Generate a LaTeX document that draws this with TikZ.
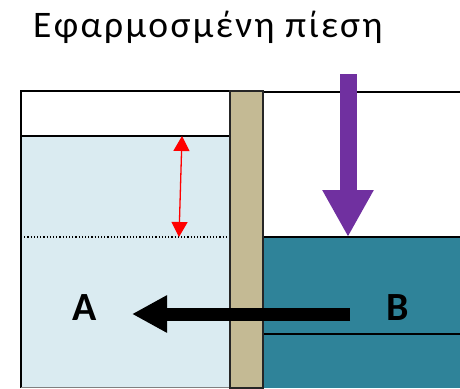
\documentclass[tikz,border=0pt]{standalone}
\usepackage{fontspec}
\setmainfont{Carlito}
\usepackage{tikz}
\usetikzlibrary{arrows.meta}
\definecolor{lightwater}{HTML}{DAEBF1}
\definecolor{deepwater}{HTML}{2F8399}
\definecolor{membrane}{HTML}{C4BA94}
\definecolor{pushcol}{HTML}{7030A0}

\begin{document}
\begin{tikzpicture}[x=1pt, y=-1pt,
      wall/.style={draw=black, line width=1.6pt},
      lbl/.style={font=\fontsize{40}{44}\selectfont\bfseries, inner sep=0pt},
      ttl/.style={font=\fontsize{37.5}{42}\selectfont\addfontfeatures{LetterSpace=6.3},
                  inner sep=0pt, anchor=base west},
      push/.style={pushcol, line width=17pt, -{Triangle[length=47pt, width=48pt]}},
      flow/.style={black, line width=13pt, -{Triangle[length=35pt, width=35pt]}},
      height/.style={red, line width=1.3pt,
                     {Triangle[length=15pt, width=16pt]}-{Triangle[length=15pt, width=16pt]}}]
    \useasboundingbox (0,0) rectangle (460,388);
    % title
    \node[ttl] (title) at (33,37) {Εφαρμοσμένη πίεση};
    % left vessel
    \fill[lightwater] (21,136) rectangle (230,388);
    \draw[wall] (21,388) -- (21,91) -- (230,91);
    \draw[wall] (21,136) -- (230,136);
    \draw[black!50, line width=1pt] (21,387) -- (230,387);
    \draw[black, dotted, line width=1.2pt] (21,237) -- (230,237);
    % right vessel
    \fill[deepwater] (263,237) rectangle (460,388);
    \draw[wall] (263,92) -- (460,92);
    \draw[wall] (263,237) -- (460,237);
    \draw[wall] (263,334) -- (460,334);
    % membrane
    \draw[fill=membrane, draw=black!85, line width=1.3pt] (230,91) rectangle (263,388);
    % labels
    \node[lbl] (A) at (85,307.5) {A};
    \node[lbl] (B) at (398,308) {B};
    % arrows
    \coordinate (risetop) at (182,136);
    \coordinate (risebot) at (179,237);
    \draw[height] (risetop) -- (risebot);
    \coordinate (pushtop) at (348,74);
    \coordinate (pushtip) at (348,237);
    \draw[push] (pushtop) -- (pushtip);
    \coordinate (flowstart) at (350,314);
    \coordinate (flowtip) at (132,314);
    \draw[flow] (flowstart) -- (flowtip);
\end{tikzpicture}
\end{document}
